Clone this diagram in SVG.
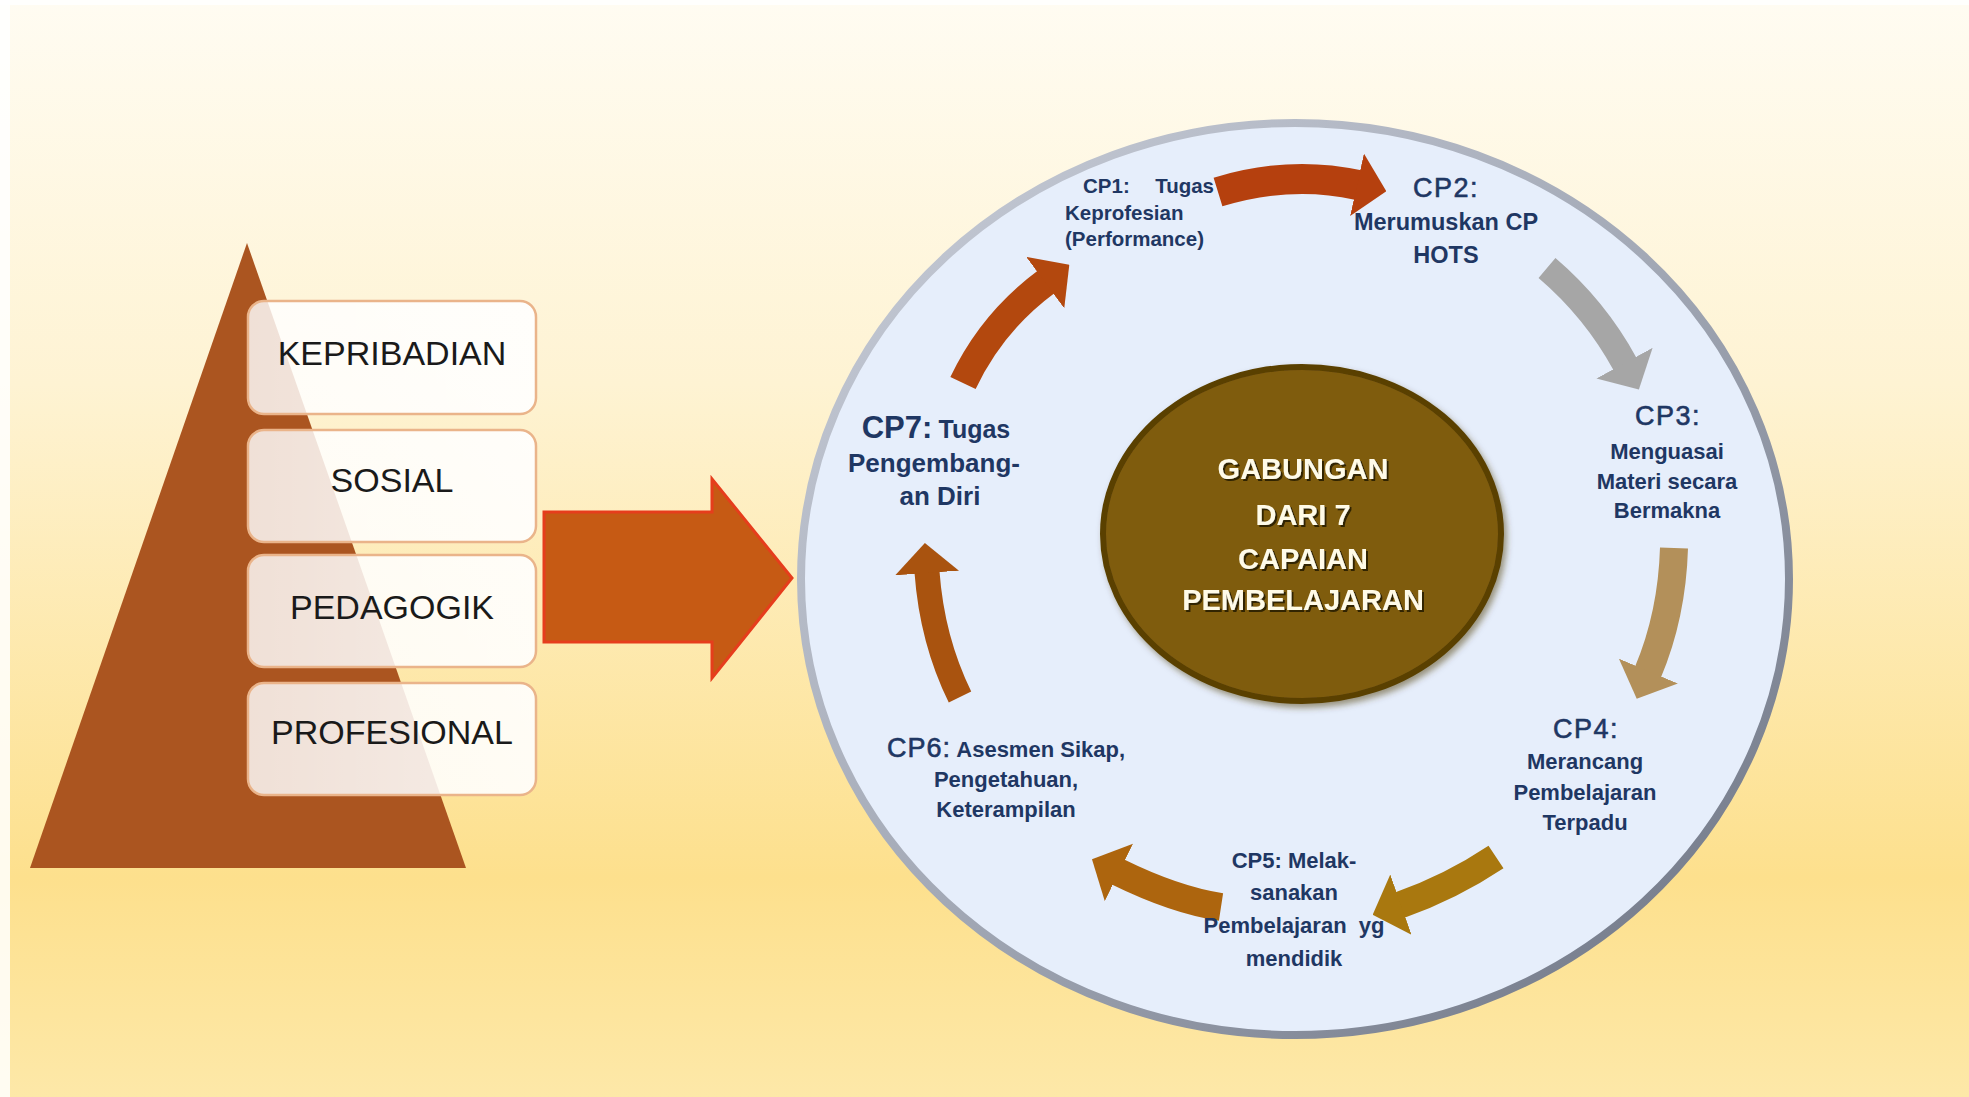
<svg xmlns="http://www.w3.org/2000/svg" width="1969" height="1097" viewBox="0 0 1969 1097">
<defs>
<linearGradient id="bg" x1="0" y1="0" x2="0" y2="1">
<stop offset="0" stop-color="#fffcf2"/>
<stop offset="0.35" stop-color="#fef3d3"/>
<stop offset="0.8" stop-color="#fde08d"/>
<stop offset="1" stop-color="#fde8a8"/>
</linearGradient>
<linearGradient id="rim" x1="0" y1="0" x2="1" y2="1">
<stop offset="0" stop-color="#c9ced9"/>
<stop offset="0.5" stop-color="#a3a9b6"/>
<stop offset="1" stop-color="#6a7181"/>
</linearGradient>
<linearGradient id="boxfill" x1="0" y1="0" x2="1" y2="0">
<stop offset="0" stop-color="#ffffff" stop-opacity="0.82"/>
<stop offset="1" stop-color="#ffffff" stop-opacity="0.9"/>
</linearGradient>
<filter id="tshadow" x="-10%" y="-30%" width="130%" height="160%">
<feDropShadow dx="2" dy="2" stdDeviation="0.6" flood-color="#2a1c00" flood-opacity="0.9"/>
</filter>
<filter id="eshadow" x="-10%" y="-10%" width="125%" height="125%">
<feDropShadow dx="3" dy="4" stdDeviation="3" flood-color="#4a3500" flood-opacity="0.5"/>
</filter>
<marker id="h1" markerUnits="userSpaceOnUse" viewBox="0 0 30 64" markerWidth="30" markerHeight="64" refX="1" refY="32" orient="auto"><path d="M0,0 L30,32 L0,64 z" fill="#b5400e"/></marker>
<marker id="h2" markerUnits="userSpaceOnUse" viewBox="0 0 30 64" markerWidth="30" markerHeight="64" refX="1" refY="32" orient="auto"><path d="M0,0 L30,32 L0,64 z" fill="#a6a6a6"/></marker>
<marker id="h3" markerUnits="userSpaceOnUse" viewBox="0 0 30 64" markerWidth="30" markerHeight="64" refX="1" refY="32" orient="auto"><path d="M0,0 L30,32 L0,64 z" fill="#b3905a"/></marker>
<marker id="h4" markerUnits="userSpaceOnUse" viewBox="0 0 30 64" markerWidth="30" markerHeight="64" refX="1" refY="32" orient="auto"><path d="M0,0 L30,32 L0,64 z" fill="#a9780f"/></marker>
<marker id="h5" markerUnits="userSpaceOnUse" viewBox="0 0 30 64" markerWidth="30" markerHeight="64" refX="1" refY="32" orient="auto"><path d="M0,0 L30,32 L0,64 z" fill="#ad650e"/></marker>
<marker id="h6" markerUnits="userSpaceOnUse" viewBox="0 0 30 64" markerWidth="30" markerHeight="64" refX="1" refY="32" orient="auto"><path d="M0,0 L30,32 L0,64 z" fill="#a9530f"/></marker>
<marker id="h7" markerUnits="userSpaceOnUse" viewBox="0 0 30 64" markerWidth="30" markerHeight="64" refX="1" refY="32" orient="auto"><path d="M0,0 L30,32 L0,64 z" fill="#b3480e"/></marker>
</defs>
<style>
.box{fill:url(#boxfill);stroke:#eab48a;stroke-width:2.5}
.boxt{font-family:"Liberation Sans",Arial,sans-serif;font-size:34px;fill:#1a1a1a;text-anchor:middle}
.lbl{font-family:"Liberation Sans",Arial,sans-serif;font-weight:bold;font-size:22px;fill:#1f3763;text-anchor:middle}
.cp{font-family:"Liberation Sans",Arial,sans-serif;font-weight:normal;font-size:27px;fill:#1f3763;stroke:#1f3763;stroke-width:0.6px;letter-spacing:1.5px}
.ctr{font-family:"Liberation Sans",Arial,sans-serif;font-weight:bold;font-size:29px;fill:#fffbe8;text-anchor:middle}
.arr{fill:none;stroke-linecap:butt}
</style>

<rect x="0" y="0" width="1969" height="1097" fill="url(#bg)"/>
<rect x="0" y="0" width="10" height="1097" fill="#ffffff" opacity="0.85"/>
<rect x="0" y="0" width="1969" height="5" fill="#ffffff" opacity="0.85"/>

<g id="pyramid">
<polygon points="247,243 30,868 466,868" fill="#ab5520"/>
</g>

<g id="kepribadian">
<rect class="box" x="248" y="301" width="288" height="113" rx="16"/>
<text class="boxt" x="392" y="365">KEPRIBADIAN</text>
</g>
<g id="sosial">
<rect class="box" x="248" y="430" width="288" height="112" rx="16"/>
<text class="boxt" x="392" y="492">SOSIAL</text>
</g>
<g id="pedagogik">
<rect class="box" x="248" y="555" width="288" height="112" rx="16"/>
<text class="boxt" x="392" y="619">PEDAGOGIK</text>
</g>
<g id="profesional">
<rect class="box" x="248" y="683" width="288" height="112" rx="16"/>
<text class="boxt" x="392" y="744">PROFESIONAL</text>
</g>

<g id="big-arrow">
<polygon points="544,512 712,512 712,479 792,578 712,678 712,642 544,642" fill="#c65a14" stroke="#e63d1c" stroke-width="3" stroke-linejoin="miter"/>
</g>

<g id="cycle">
<ellipse cx="1295" cy="579" rx="494" ry="456" fill="#e6eefb" stroke="url(#rim)" stroke-width="8"/>
</g>

<g id="center">
<ellipse cx="1302" cy="534" rx="199" ry="167" fill="#7f5c0e" stroke="#5a4105" stroke-width="6" filter="url(#eshadow)"/>
<g filter="url(#tshadow)">
<text class="ctr" x="1303" y="479">GABUNGAN</text>
<text class="ctr" x="1303" y="525">DARI 7</text>
<text class="ctr" x="1303" y="569">CAPAIAN</text>
<text class="ctr" x="1303" y="610">PEMBELAJARAN</text>
</g>
</g>

<g id="connectors">
<path class="arr" d="M1218,192 Q1290,170 1358,185" stroke="#b5400e" stroke-width="30" marker-end="url(#h1)"/>
<path class="arr" d="M1547,268 Q1595,309 1625,364" stroke="#a6a6a6" stroke-width="26" marker-end="url(#h2)"/>
<path class="arr" d="M1674,548 Q1672,615 1648,672" stroke="#b3905a" stroke-width="28" marker-end="url(#h3)"/>
<path class="arr" d="M1496,857 Q1451,887 1400,905" stroke="#a9780f" stroke-width="27" marker-end="url(#h4)"/>
<path class="arr" d="M1221,907 Q1175,900 1118,872" stroke="#ad650e" stroke-width="28" marker-end="url(#h5)"/>
<path class="arr" d="M960,697 Q932,640 927,572" stroke="#a9530f" stroke-width="25" marker-end="url(#h6)"/>
<path class="arr" d="M963,383 Q992,322 1046,282" stroke="#b3480e" stroke-width="28" marker-end="url(#h7)"/>
</g>

<g id="cp1">
<text class="lbl" style="font-size:20.5px;text-anchor:start" x="1083" y="193">CP1:</text>
<text class="lbl" style="font-size:20.5px;text-anchor:end" x="1214" y="193">Tugas</text>
<text class="lbl" style="font-size:20.5px;text-anchor:start" x="1065" y="220">Keprofesian</text>
<text class="lbl" style="font-size:20.5px;text-anchor:start" x="1065" y="246">(Performance)</text>
</g>
<g id="cp2">
<text class="cp" x="1446" y="197" text-anchor="middle">CP2:</text>
<text class="lbl" style="font-size:23.5px" x="1446" y="230">Merumuskan CP</text>
<text class="lbl" style="font-size:23.5px" x="1446" y="263">HOTS</text>
</g>
<g id="cp3">
<text class="cp" x="1668" y="425" text-anchor="middle">CP3:</text>
<text class="lbl" x="1667" y="459">Menguasai</text>
<text class="lbl" x="1667" y="489">Materi secara</text>
<text class="lbl" x="1667" y="518">Bermakna</text>
</g>
<g id="cp4">
<text class="cp" x="1586" y="738" text-anchor="middle">CP4:</text>
<text class="lbl" x="1585" y="769">Merancang</text>
<text class="lbl" x="1585" y="800">Pembelajaran</text>
<text class="lbl" x="1585" y="830">Terpadu</text>
</g>
<g id="cp5">
<text class="lbl" x="1294" y="868">CP5: Melak-</text>
<text class="lbl" x="1294" y="900">sanakan</text>
<text class="lbl" x="1294" y="933" xml:space="preserve">Pembelajaran  yg</text>
<text class="lbl" x="1294" y="966">mendidik</text>
</g>
<g id="cp6">
<text class="lbl" x="1006" y="757"><tspan style="font-weight:normal;font-size:27px;letter-spacing:1px;stroke:#1f3763;stroke-width:0.6px">CP6:</tspan> Asesmen Sikap,</text>
<text class="lbl" x="1006" y="787">Pengetahuan,</text>
<text class="lbl" x="1006" y="817">Keterampilan</text>
</g>
<g id="cp7">
<text class="lbl" x="936" y="438"><tspan style="font-size:31px">CP7:</tspan> <tspan style="font-size:25px">Tugas</tspan></text>
<text class="lbl" style="font-size:26px" x="934" y="472">Pengembang-</text>
<text class="lbl" style="font-size:26px" x="940" y="505">an Diri</text>
</g>
</svg>
